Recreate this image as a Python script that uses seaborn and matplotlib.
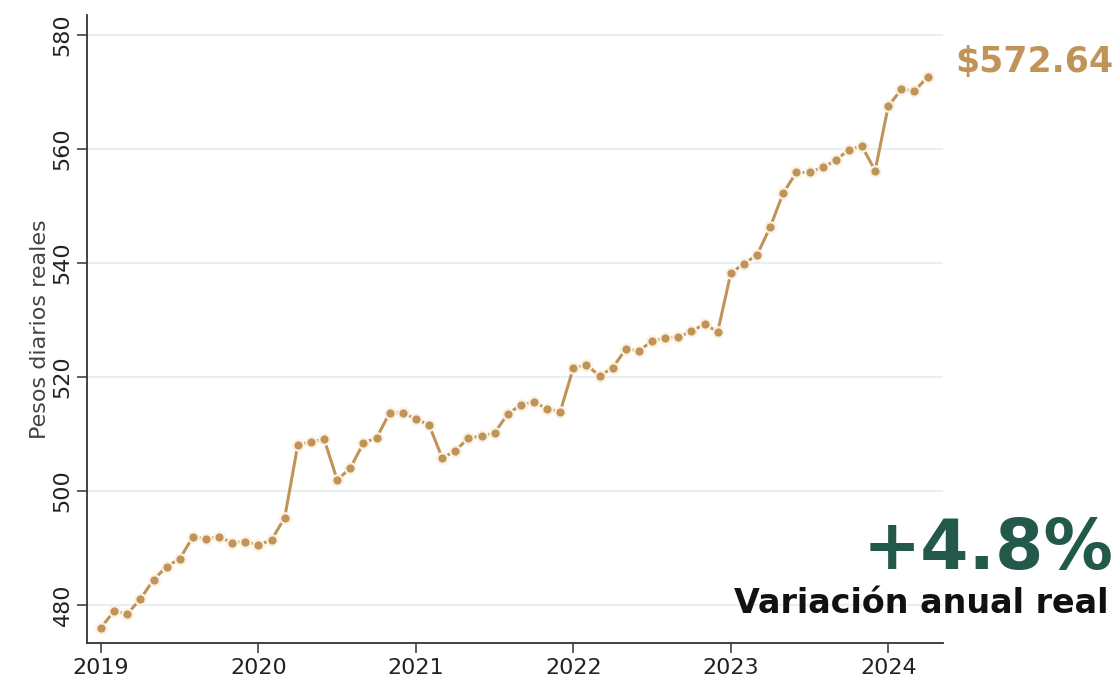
import numpy as np
import pandas as pd
import matplotlib
matplotlib.use("Agg")
import matplotlib.pyplot as plt
import seaborn as sns

# Monthly real daily wage, Jan 2019 - Apr 2024 (pesos)
years = [2019] * 12 + [2020] * 12 + [2021] * 12 + [2022] * 12 + [2023] * 12 + [2024] * 4
months = list(range(1, 13)) * 5 + [1, 2, 3, 4]
wages = [
    476.0, 478.9, 478.4, 481.0, 484.4, 486.7, 488.1, 491.9, 491.6, 491.9, 490.9, 491.1,
    490.5, 491.4, 495.3, 508.1, 508.6, 509.1, 501.9, 504.0, 508.4, 509.3, 513.7, 513.7,
    512.6, 511.6, 505.8, 507.0, 509.3, 509.6, 510.2, 513.5, 515.1, 515.6, 514.4, 513.9,
    521.6, 522.1, 520.2, 521.6, 524.9, 524.6, 526.3, 526.8, 527.0, 528.0, 529.3, 527.9,
    538.2, 539.9, 541.4, 546.3, 552.3, 555.9, 555.9, 556.8, 558.0, 559.9, 560.5, 556.2,
    567.5, 570.5, 570.2, 572.64,
]
year_ticks = [2019, 2020, 2021, 2022, 2023, 2024]
y_ticks = [480, 500, 520, 540, 560, 580]
last_value_label = "$572.64"
change_label = "+4.8%"
change_caption = "Variación anual real"

gold = "#C09458"
green = "#23594A"

df = pd.DataFrame({"year": years, "month": months, "wage": wages})
df["t"] = df["year"] + (df["month"] - 1) / 12

sns.set_theme(style="white")
plt.rcParams["font.family"] = ["DejaVu Sans"]

fig = plt.figure(figsize=(11.2, 6.91), dpi=100)
ax = fig.add_axes([0.0777, 0.0695, 0.764, 0.9085])

sns.lineplot(
    data=df, x="t", y="wage", ax=ax,
    color=gold, linewidth=2.2,
    marker="o", markersize=7.5,
    markerfacecolor=gold, markeredgecolor="#FBF1E2", markeredgewidth=1.6,
)

ax.set_xlim(2018.911, 2024.346)
ax.set_ylim(473.3, 583.5)
ax.set_xticks(year_ticks)
ax.set_xticklabels([str(y) for y in year_ticks])
ax.set_yticks(y_ticks)
ax.set_yticklabels([str(v) for v in y_ticks], rotation=90, va="center")

ax.grid(axis="y", color="#E6F0F1", linewidth=1.5)
ax.set_axisbelow(True)
for side in ["top", "right"]:
    ax.spines[side].set_visible(False)
for side in ["left", "bottom"]:
    ax.spines[side].set_color("#333333")
    ax.spines[side].set_linewidth(1.3)

ax.tick_params(axis="both", which="major", length=7, width=1.1,
               color="#333333", labelsize=16, labelcolor="#222222",
               bottom=True, left=True)
ax.set_xlabel("")
ax.set_ylabel("Pesos diarios reales", fontsize=16, color="#444444", labelpad=2)

fig.text(0.994, 0.91, last_value_label, ha="right", va="center",
         fontsize=25, fontweight="bold", color=gold)
fig.text(0.994, 0.205, change_label, ha="right", va="center",
         fontsize=50, fontweight="bold", color=green)
fig.text(0.99, 0.126, change_caption, ha="right", va="center",
         fontsize=24, fontweight="bold", color="#111111")

fig.savefig("out.png", dpi=100, facecolor="white")
